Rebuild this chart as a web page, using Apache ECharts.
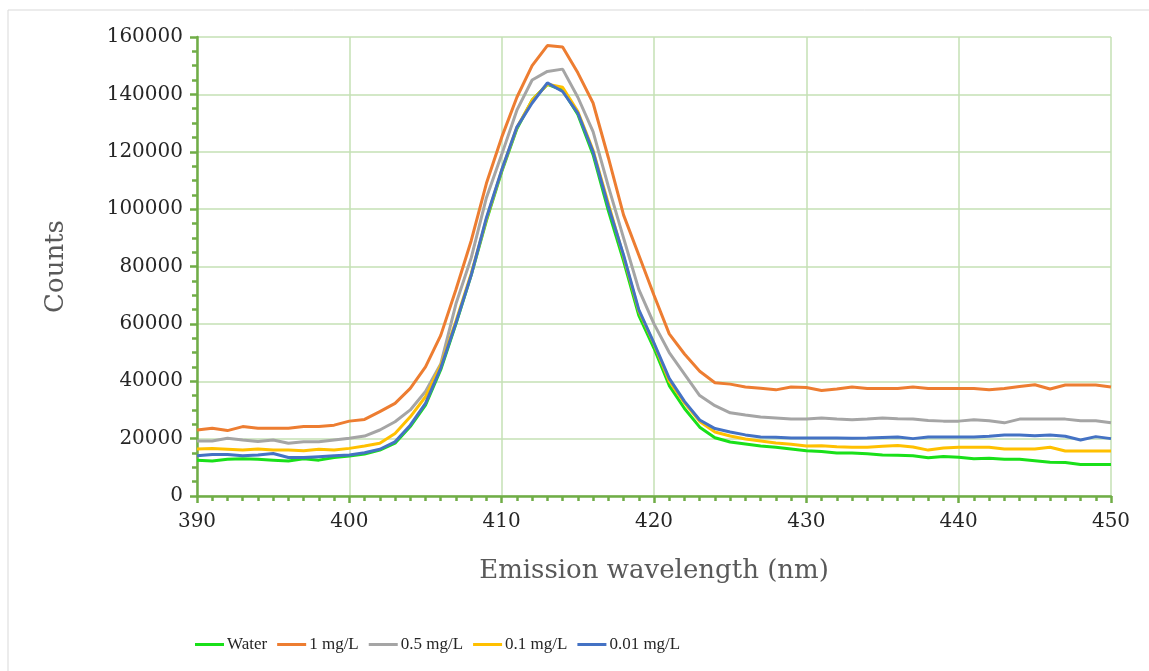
<!DOCTYPE html>
<html>
<head>
<meta charset="utf-8">
<script src="https://cdn.jsdelivr.net/npm/echarts@6/dist/echarts.min.js"></script>
<style>
  html, body { margin: 0; padding: 0; background: #fff; }
  #chart { width: 1149px; height: 671px; }
</style>
</head>
<body>
<div id="chart"></div>
<script>
// wavelength, nm
const wavelengths = [];
for (let w = 390; w <= 450; w++) wavelengths.push(w);

const water = [12500, 12200, 12800, 13000, 12800, 12500, 12200, 13000, 12500, 13400,
  13900, 14600, 16000, 18400, 24200, 31700, 44000, 60000, 77000, 96000,
  113000, 128000, 138000, 143500, 141500, 133000, 119000, 99500, 82000, 63000,
  51500, 38500, 30500, 24000, 20300, 18800, 18100, 17400, 17000, 16400,
  15800, 15500, 15000, 15000, 14700, 14300, 14200, 14000, 13300, 13800,
  13500, 13000, 13200, 12800, 12800, 12300, 11800, 11700, 11000, 11000, 11000];

const mg1 = [23000, 23600, 22800, 24200, 23600, 23600, 23600, 24200, 24200, 24700,
  26100, 26700, 29400, 32300, 37500, 45000, 56000, 72000, 89000, 109000,
  125000, 139000, 150000, 157000, 156500, 147500, 137000, 118000, 98000, 84000,
  70000, 56500, 49500, 43500, 39500, 39000, 38000, 37600, 37000, 38000,
  37800, 36800, 37300, 38000, 37500, 37500, 37500, 38000, 37500, 37500,
  37500, 37500, 37000, 37500, 38200, 38800, 37300, 38700, 38700, 38700, 38000];

const mg05 = [19200, 19200, 20100, 19500, 19000, 19500, 18400, 18900, 18900, 19500,
  20100, 20900, 23000, 25900, 30000, 36400, 46000, 67000, 83000, 104000,
  119000, 134500, 145000, 148000, 148800, 139000, 127000, 108000, 90000, 72000,
  60000, 50000, 42500, 35000, 31500, 29000, 28200, 27500, 27200, 26800,
  26800, 27200, 26800, 26600, 26800, 27200, 26900, 26800, 26300, 26100,
  26100, 26600, 26200, 25500, 26800, 26800, 26800, 26800, 26200, 26200, 25500];

const mg01 = [16400, 16600, 16300, 16000, 16400, 16000, 16000, 15800, 16300, 16000,
  16600, 17400, 18400, 21800, 27600, 34600, 45500, 61000, 77500, 96500,
  113500, 128500, 138000, 143500, 142500, 134000, 120500, 102000, 83500, 64500,
  53000, 40000, 32500, 26000, 22300, 20900, 19900, 19200, 18500, 18000,
  17400, 17500, 17200, 17000, 17000, 17300, 17600, 17100, 16000, 16700,
  17000, 17000, 17000, 16400, 16400, 16400, 17000, 15700, 15700, 15700, 15700];

const mg001 = [14000, 14500, 14500, 14000, 14300, 14800, 13400, 13400, 13700, 14000,
  14300, 15100, 16300, 18900, 24700, 32300, 44600, 60300, 77000, 97000,
  113600, 128600, 137000, 144000, 141000, 133500, 120000, 101000, 84000, 65000,
  53300, 41000, 33000, 26500, 23500, 22300, 21300, 20600, 20500, 20200,
  20200, 20200, 20200, 20100, 20200, 20400, 20600, 20000, 20600, 20600,
  20600, 20600, 20800, 21300, 21300, 21000, 21300, 20800, 19500, 20700, 20000];

const seriesNames = ['Water', '1 mg/L', '0.5 mg/L', '0.1 mg/L', '0.01 mg/L'];
const seriesData = [water, mg1, mg05, mg01, mg001];
const seriesColors = ['#19E019', '#ED7D31', '#A5A5A5', '#FFC000', '#4472C4'];

const serif = "'DejaVu Serif', serif";
const axisGreen = '#70AD47';
const gridGreen = '#C5E0B4';

const chart = echarts.init(document.getElementById('chart'));

chart.setOption({
  animation: false,
  backgroundColor: '#fff',
  graphic: [{
    type: 'rect',
    shape: { x: 8, y: 10, width: 1160, height: 680 },
    style: { fill: 'transparent', stroke: '#D9D9D9', lineWidth: 1 },
    silent: true
  }],
  grid: { left: 197, right: 38, top: 37, bottom: 175 },
  legend: {
    left: 190,
    top: 631,
    icon: 'rect',
    itemWidth: 29,
    itemHeight: 3,
    itemGap: 10,
    textStyle: { fontFamily: "'Liberation Serif', serif", fontSize: 17, color: '#262626', padding: [0, 0, 0, -2] },
    data: seriesNames
  },
  xAxis: {
    type: 'value',
    min: 390,
    max: 450,
    interval: 10,
    name: 'Emission wavelength (nm)',
    nameLocation: 'middle',
    nameGap: 62,
    nameTextStyle: { fontFamily: serif, fontSize: 26, color: '#595959' },
    axisLine: { lineStyle: { color: axisGreen, width: 2.5 } },
    axisTick: { show: true, length: 7, lineStyle: { color: axisGreen, width: 2.5 } },
    minorTick: { show: true, splitNumber: 10, length: 5, lineStyle: { color: axisGreen, width: 2.5 } },
    axisLabel: { fontFamily: serif, fontSize: 20, color: '#262626', margin: 16 },
    splitLine: { show: true, lineStyle: { color: gridGreen, width: 1.5 } }
  },
  yAxis: {
    type: 'value',
    min: 0,
    max: 160000,
    interval: 20000,
    name: 'Counts',
    nameLocation: 'middle',
    nameGap: 128,
    nameTextStyle: { fontFamily: serif, fontSize: 26, color: '#595959' },
    axisLine: { show: true, lineStyle: { color: axisGreen, width: 2.5 } },
    axisTick: { show: true, length: 7, lineStyle: { color: axisGreen, width: 2.5 } },
    minorTick: { show: true, splitNumber: 4, length: 5, lineStyle: { color: axisGreen, width: 2.5 } },
    axisLabel: { fontFamily: serif, fontSize: 20, color: '#262626', margin: 14, formatter: v => String(v) },
    splitLine: { show: true, lineStyle: { color: gridGreen, width: 1.5 } }
  },
  series: seriesNames.map((name, i) => ({
    name: name,
    type: 'line',
    showSymbol: false,
    symbol: 'none',
    lineStyle: { width: 3, color: seriesColors[i] },
    itemStyle: { color: seriesColors[i] },
    data: wavelengths.map((w, j) => [w, seriesData[i][j]])
  }))
});

window.addEventListener('resize', () => chart.resize());
</script>
</body>
</html>
